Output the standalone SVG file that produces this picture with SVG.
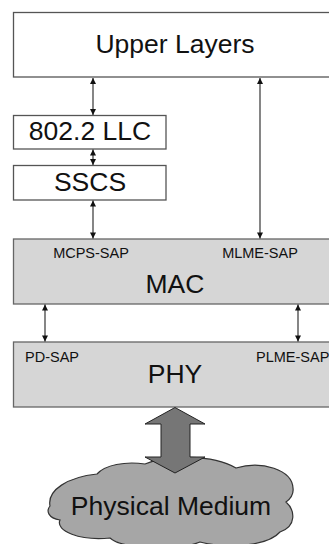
<svg xmlns="http://www.w3.org/2000/svg" width="329" height="544" viewBox="0 0 329 544">
<style>
.box{fill:#fff;stroke:#555;stroke-width:1.3}
.gbox{fill:#d6d6d6;stroke:#666;stroke-width:1.3}
.big{font-family:"Liberation Sans",Arial,sans-serif;font-size:26.5px;fill:#111;text-anchor:middle}
.sm{font-family:"Liberation Sans",Arial,sans-serif;font-size:14.5px;fill:#111}
.ln{stroke:#222;stroke-width:1.1;fill:none;marker-start:url(#ah);marker-end:url(#ah)}
</style>
<defs>
<marker id="ah" viewBox="0 0 10 10" refX="10" refY="5" markerWidth="7" markerHeight="6" markerUnits="userSpaceOnUse" orient="auto-start-reverse">
<path d="M0,0 L10,5 L0,10 Z" fill="#111"/>
</marker>
</defs>
<rect width="329" height="544" fill="#fff"/>
<g id="upper"><rect class="box" x="13.5" y="12.5" width="320" height="64.5"/><text class="big" x="175" y="53">Upper Layers</text></g>
<g id="llc"><rect class="box" x="13.5" y="115.5" width="152.5" height="33.5"/><text class="big" x="90" y="140">802.2 LLC</text></g>
<g id="sscs"><rect class="box" x="13.5" y="165.5" width="152.5" height="34.5"/><text class="big" x="90" y="191">SSCS</text></g>
<g id="mac"><rect class="gbox" x="13.5" y="239" width="320" height="65"/><text class="big" x="175" y="293">MAC</text><text class="sm" x="91" y="258" text-anchor="middle">MCPS-SAP</text><text class="sm" x="260" y="258" text-anchor="middle">MLME-SAP</text></g>
<g id="phy"><rect class="gbox" x="13.5" y="342" width="320" height="65"/><text class="big" x="175" y="383">PHY</text><text class="sm" x="25" y="362">PD-SAP</text><text class="sm" x="256" y="362">PLME-SAP</text></g>
<g id="medium">
<path d="M50,506 C47,490 68,477 97,474 C105,465 125,461 145,464 C168,455 212,454 236,468 C262,460 292,470 293,488 C294,495 290,499 286,502 C295,510 297,526 280,532 C268,546 228,549 200,542 C178,551 122,549 110,538 C80,541 55,531 60,520 C48,518 46,511 50,506 Z" fill="#a6a6a6" stroke="#333" stroke-width="1.2"/>
<text class="big" x="171" y="515">Physical Medium</text>
</g>
<g id="connectors">
<line class="ln" x1="93" y1="78" x2="93" y2="115"/>
<line class="ln" x1="93" y1="149.5" x2="93" y2="165"/>
<line class="ln" x1="93" y1="200.5" x2="93" y2="238.5"/>
<line class="ln" x1="260" y1="78" x2="260" y2="238.5"/>
<line class="ln" x1="45" y1="304.5" x2="45" y2="341.5"/>
<line class="ln" x1="298" y1="304.5" x2="298" y2="341.5"/>
<path d="M175,407.5 L205,424 L190,424 L190,457 L205,457 L175,473 L145,457 L161,457 L161,424 L145,424 Z" fill="#767676" stroke="#222" stroke-width="1"/>
</g>
</svg>
